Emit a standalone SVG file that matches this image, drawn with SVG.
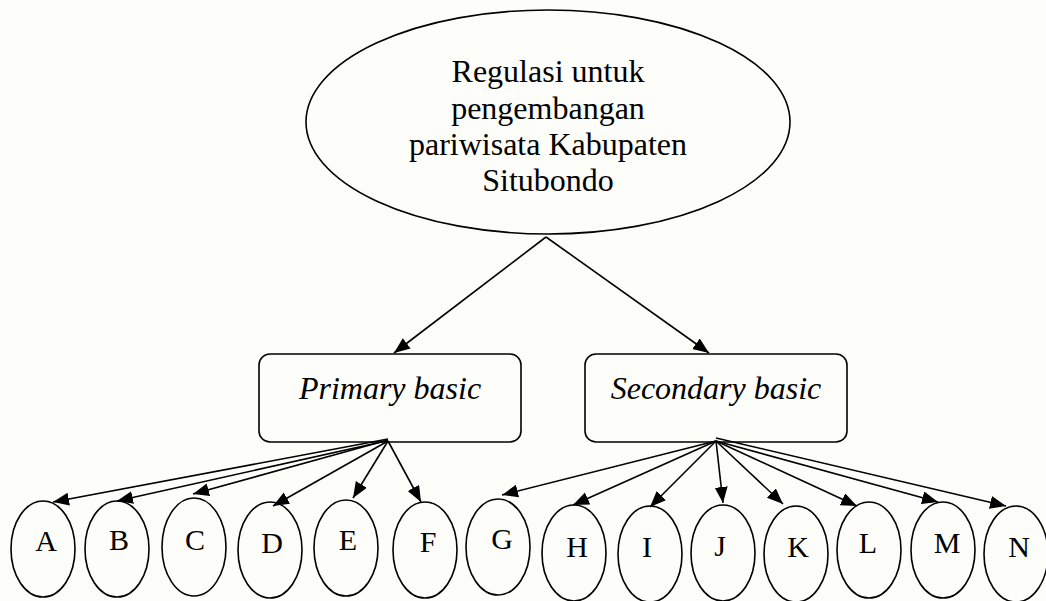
<svg xmlns="http://www.w3.org/2000/svg" width="1046" height="601" viewBox="0 0 1046 601">
<style>
.shape{fill:none;stroke:#000;stroke-width:1.6}
.conn{stroke:#000;stroke-width:1.6;fill:none}
.t{font-family:"Liberation Serif","Times New Roman",serif;fill:#000;text-anchor:middle}
.top{font-size:32px}
.box{font-size:32px;font-style:italic}
.lbl{font-size:30px}
</style>
<defs>
<marker id="ah" markerUnits="userSpaceOnUse" markerWidth="17" markerHeight="14" refX="16" refY="6.5" orient="auto">
<path d="M0,0 L16,6.5 L0,13 z" fill="#000"/>
</marker>
</defs>
<rect width="1046" height="601" fill="#fdfdfa"/>
<g id="connectors" class="conn" marker-end="url(#ah)">
<line x1="546" y1="237" x2="394" y2="353"/>
<line x1="546" y1="237" x2="709" y2="353"/>
<line x1="388" y1="439" x2="53" y2="502"/>
<line x1="386" y1="441" x2="117" y2="501"/>
<line x1="388" y1="440" x2="193" y2="494"/>
<line x1="388" y1="441" x2="273" y2="506"/>
<line x1="388" y1="441" x2="353" y2="498"/>
<line x1="388" y1="441" x2="421" y2="502"/>
<line x1="716" y1="441" x2="502" y2="495"/>
<line x1="716" y1="441" x2="573" y2="505"/>
<line x1="716" y1="441" x2="650" y2="507"/>
<line x1="716" y1="441" x2="723" y2="503"/>
<line x1="716" y1="441" x2="783" y2="504"/>
<line x1="716" y1="441" x2="857" y2="506"/>
<line x1="716" y1="441" x2="938" y2="502"/>
<line x1="716" y1="438" x2="1006" y2="506"/>
</g>
<g id="node-root">
<ellipse class="shape" cx="548" cy="122" rx="242" ry="112"/>
<text class="t top" x="548" y="82">Regulasi untuk</text>
<text class="t top" x="548" y="118.5">pengembangan</text>
<text class="t top" x="548" y="155">pariwisata Kabupaten</text>
<text class="t top" x="548" y="191">Situbondo</text>
</g>
<g id="node-primary">
<rect class="shape" x="259" y="354" width="262" height="88" rx="11"/>
<text class="t box" x="390" y="399">Primary basic</text>
</g>
<g id="node-secondary">
<rect class="shape" x="585" y="354" width="262" height="88" rx="11"/>
<text class="t box" x="716" y="399">Secondary basic</text>
</g>
<g id="node-A"><ellipse class="shape" cx="43" cy="549" rx="32" ry="48"/><text class="t lbl" x="46" y="551">A</text></g>
<g id="node-B"><ellipse class="shape" cx="117" cy="549" rx="32" ry="48"/><text class="t lbl" x="119" y="550">B</text></g>
<g id="node-C"><ellipse class="shape" cx="194" cy="547" rx="32" ry="49"/><text class="t lbl" x="195" y="550">C</text></g>
<g id="node-D"><ellipse class="shape" cx="270" cy="550" rx="32" ry="48"/><text class="t lbl" x="272" y="553">D</text></g>
<g id="node-E"><ellipse class="shape" cx="346" cy="548" rx="32" ry="48"/><text class="t lbl" x="348" y="550">E</text></g>
<g id="node-F"><ellipse class="shape" cx="425" cy="550" rx="32" ry="48"/><text class="t lbl" x="428" y="552">F</text></g>
<g id="node-G"><ellipse class="shape" cx="498" cy="547" rx="32" ry="48"/><text class="t lbl" x="502" y="549">G</text></g>
<g id="node-H"><ellipse class="shape" cx="574" cy="553" rx="32" ry="48"/><text class="t lbl" x="577" y="557">H</text></g>
<g id="node-I"><ellipse class="shape" cx="650" cy="554" rx="32" ry="48"/><text class="t lbl" x="647" y="557">I</text></g>
<g id="node-J"><ellipse class="shape" cx="723" cy="553" rx="32" ry="48"/><text class="t lbl" x="720" y="556">J</text></g>
<g id="node-K"><ellipse class="shape" cx="796" cy="554" rx="32" ry="48"/><text class="t lbl" x="798" y="557">K</text></g>
<g id="node-L"><ellipse class="shape" cx="869" cy="550" rx="32" ry="48"/><text class="t lbl" x="868" y="553">L</text></g>
<g id="node-M"><ellipse class="shape" cx="943" cy="550" rx="32" ry="48"/><text class="t lbl" x="947" y="553">M</text></g>
<g id="node-N"><ellipse class="shape" cx="1016" cy="554" rx="32" ry="48"/><text class="t lbl" x="1019" y="557">N</text></g>
</svg>
